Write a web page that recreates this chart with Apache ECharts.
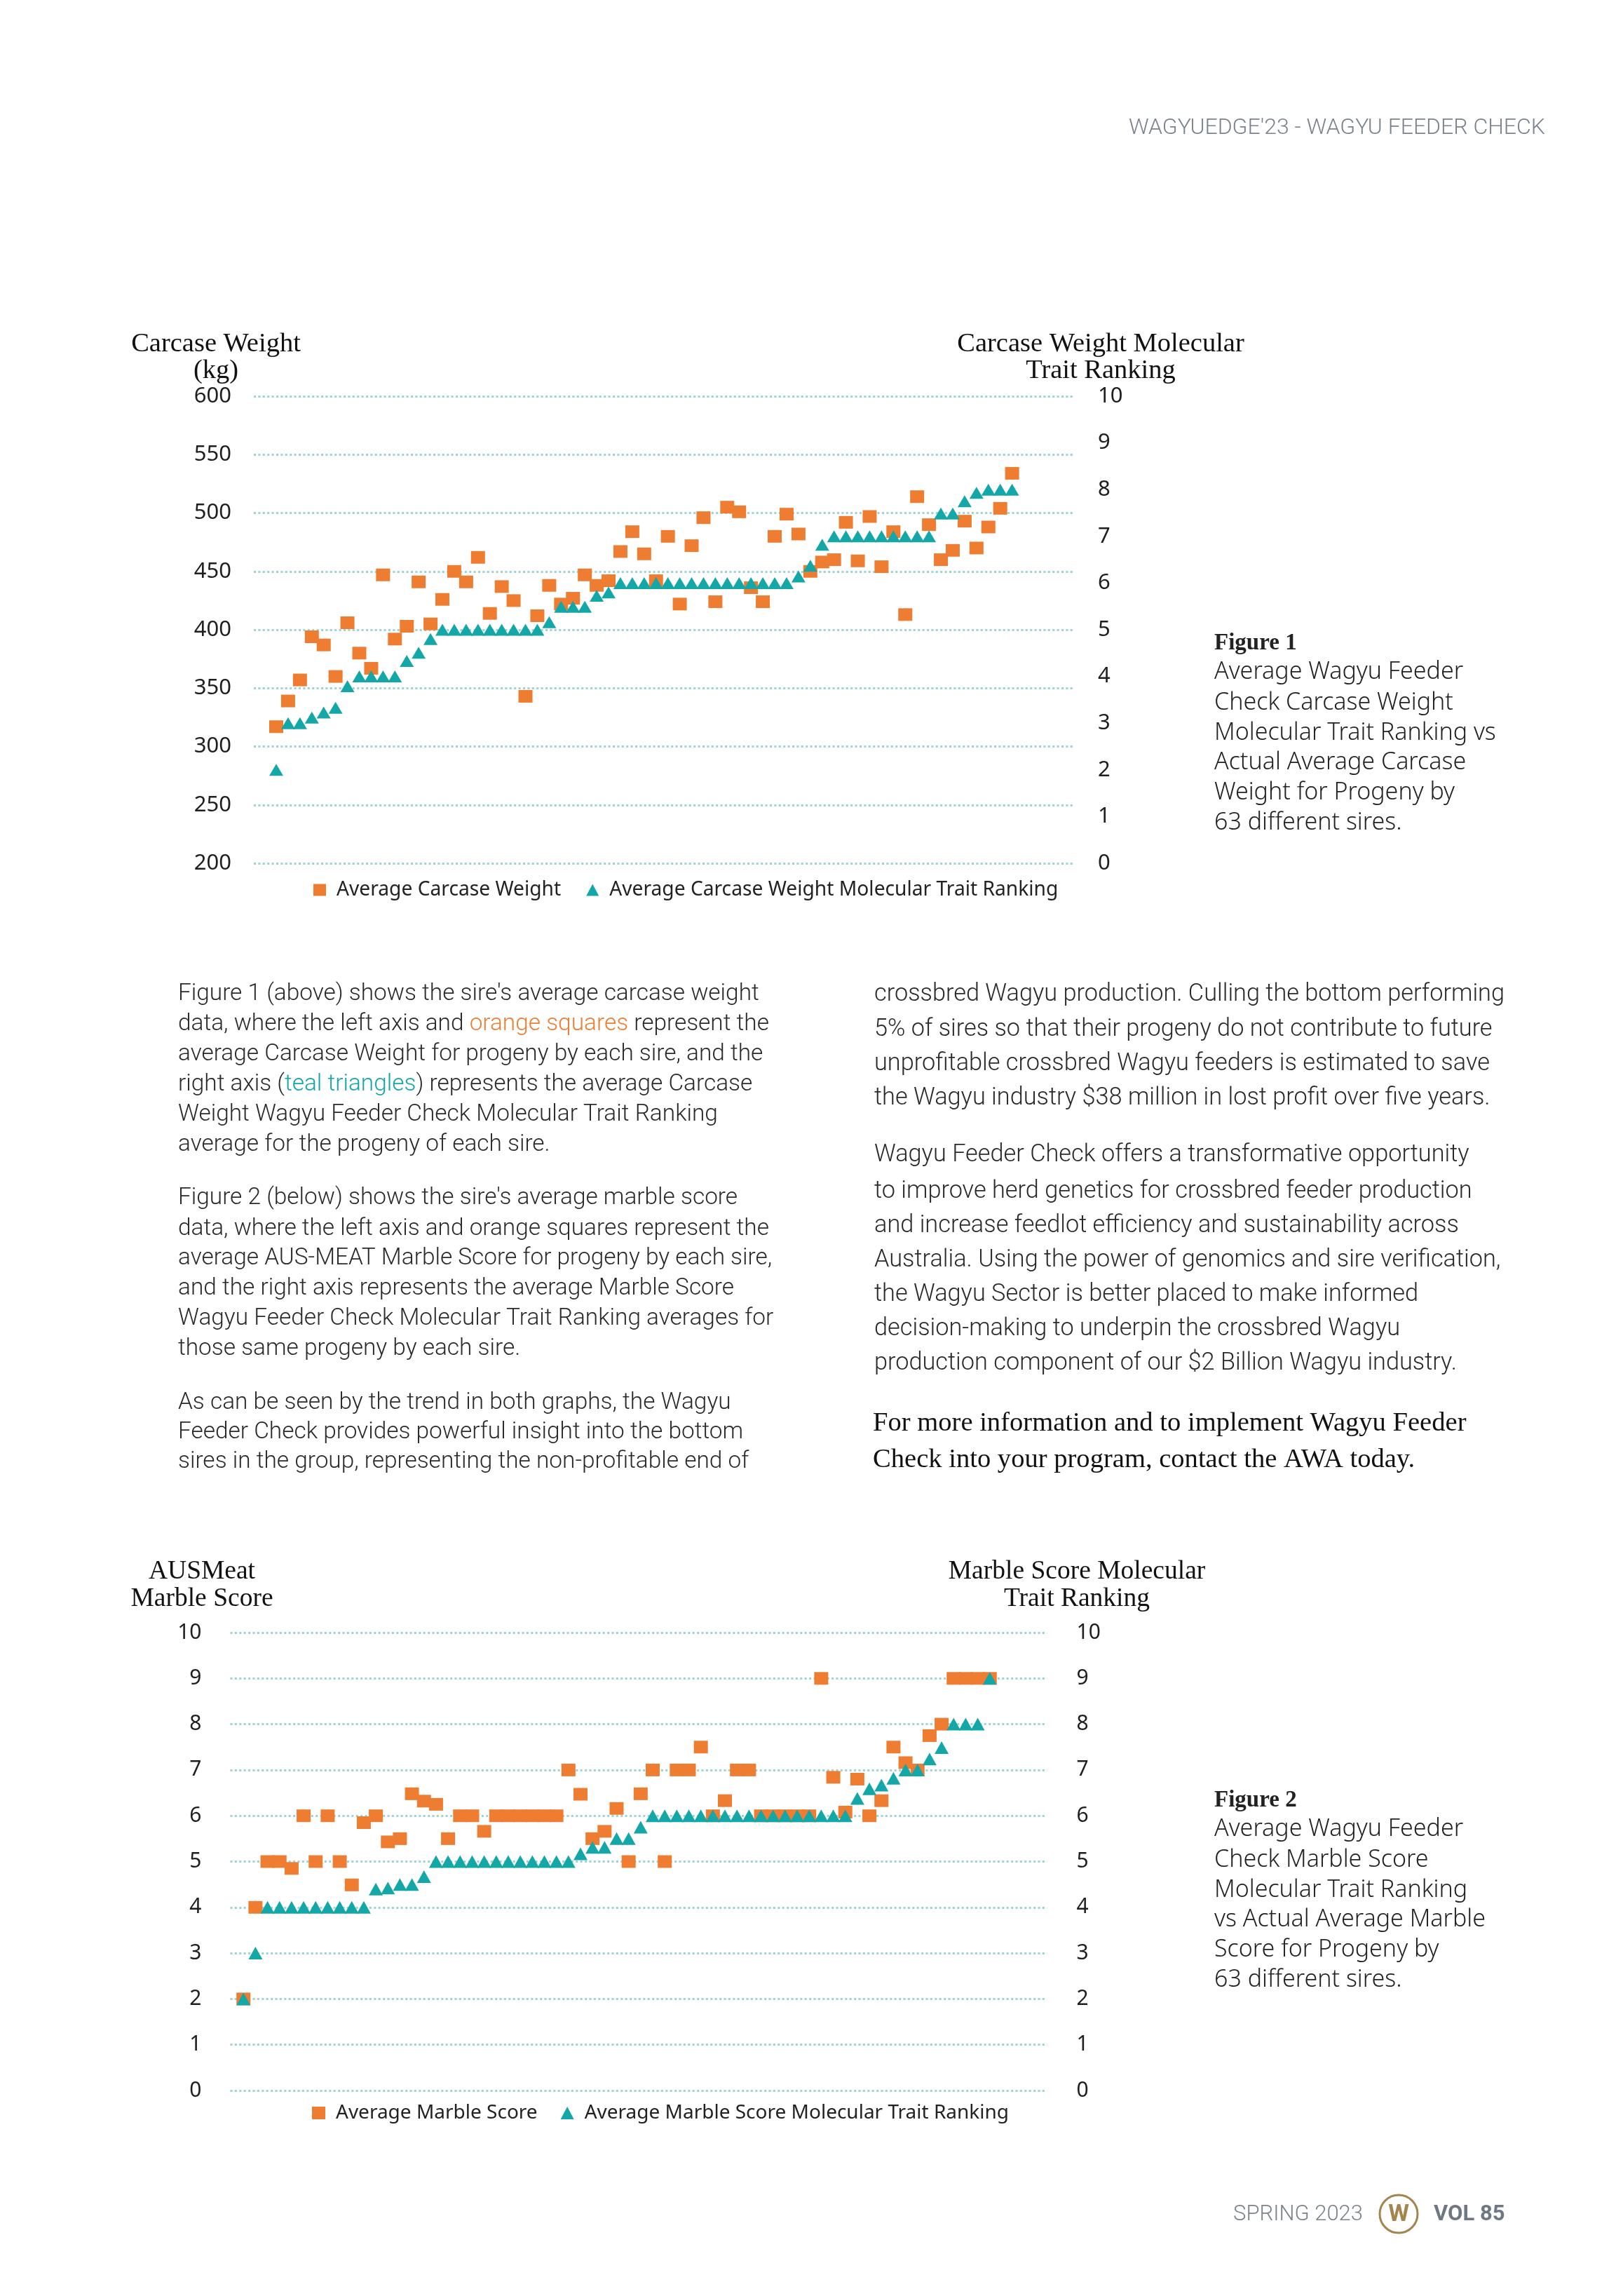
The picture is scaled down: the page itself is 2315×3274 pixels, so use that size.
<!DOCTYPE html>
<html>
<head>
<meta charset="utf-8">
<script src="https://cdn.jsdelivr.net/npm/echarts@6/dist/echarts.min.js"></script>
<style>
html,body{margin:0;padding:0;background:#ffffff;}
#page{width:2315px;height:3274px;}
</style>
</head>
<body>
<div id="page"></div>
<script>
// ---------- DATA ----------
const sireIndex = [1,2,3,4,5,6,7,8,9,10,11,12,13,14,15,16,17,18,19,20,21,22,23,24,25,26,27,28,29,30,31,32,
  33,34,35,36,37,38,39,40,41,42,43,44,45,46,47,48,49,50,51,52,53,54,55,56,57,58,59,60,61,62,63];

// Figure 1 – average carcase weight (kg), left axis
const carcaseWeight = [317,339,357,394,387,360,406,380,367,447,392,403,441,405,426,450,441,462,414,437,425,343,
  412,438,422,427,447,438,442,467,484,465,442,480,422,472,496,424,505,501,436,424,480,499,482,450,458,460,492,459,
  497,454,484,413,514,490,460,468,493,470,488,504,534];

// Figure 1 – carcase weight molecular trait ranking, right axis
const carcaseRanking = [2.0,3.0,3.0,3.12,3.23,3.33,3.79,4.0,4.0,4.0,4.0,4.33,4.51,4.8,5,5,5,5,5,5,5,5,5,5.16,
  5.49,5.49,5.49,5.73,5.8,6,6,6,6,6,6,6,6,6,6,6,6,6,6,6,6.14,6.37,6.82,7,7,7,7,7,7,7,7,7,7.49,7.49,7.75,7.93,8,8,8];

// Figure 2 – average AUS-MEAT marble score, left axis
const marbleScore = [2.0,4.0,5.0,5.0,4.85,6.0,5.0,6.0,5.0,4.49,5.85,6.0,5.43,5.5,6.48,6.32,6.25,5.5,6.0,6.0,5.66,
  6,6,6,6,6,6,7.0,6.47,5.5,5.66,6.16,5.0,6.48,7.0,5.0,7.0,7.0,7.5,6.0,6.33,7.0,7.0,6,6,6,6,6,9.0,6.84,6.08,6.8,6.0,
  6.33,7.5,7.16,7.0,7.75,8.0,9,9,9,9];

// Figure 2 – marble score molecular trait ranking, right axis
const marbleRanking = [2.0,3.0,4,4,4,4,4,4,4,4,4,4.4,4.42,4.5,4.5,4.67,5,5,5,5,5,5,5,5,5,5,5,5,5.17,5.31,5.31,5.5,5.5,
  5.75,6,6,6,6,6,6,6,6,6,6,6,6,6,6,6,6,6,6.38,6.59,6.67,6.82,7.0,7.0,7.24,7.49,8,8,8,9];

const fig1SeriesNames = ['Average Carcase Weight', 'Average Carcase Weight Molecular Trait Ranking'];
const fig2SeriesNames = ['Average Marble Score', 'Average Marble Score Molecular Trait Ranking'];

// ---------- STYLE ----------
const ORANGE = '#ee7d32';
const TEAL = '#14a7a8';
const GRID_DOT = '#9dd3d3';
const SANS = "'Noto Sans', sans-serif";
const BODY = "Roboto, 'Noto Sans', sans-serif";
const SERIF = "'Liberation Serif', 'DejaVu Serif', serif";
const INK = '#1f1f1f';
const GREY = '#7a838d';

function pairs(values) { return values.map((v, i) => [sireIndex[i], v]); }

function txt(x, y, text, font, fill, align, extra) {
  const st = Object.assign({
    text: text, font: font, fill: fill,
    align: align || 'left', verticalAlign: 'middle',
    textAlign: align || 'left', textVerticalAlign: 'middle'
  }, extra || {});
  return { type: 'text', x: x, y: y, silent: true, style: st };
}

const bodyFontL = '300 33.4px ' + BODY;
const bodyFontR = '300 34.3px ' + BODY;
const rich = {
  o: { fill: ORANGE, font: bodyFontL },
  t: { fill: TEAL, font: bodyFontL }
};

const leftCol = [
  [1418, "Figure 1 (above) shows the sire's average carcase weight"],
  [1461, "data, where the left axis and {o|orange squares} represent the"],
  [1504, "average Carcase Weight for progeny by each sire, and the"],
  [1547, "right axis ({t|teal triangles}) represents the average Carcase"],
  [1590, "Weight Wagyu Feeder Check Molecular Trait Ranking"],
  [1633, "average for the progeny of each sire."],
  [1709, "Figure 2 (below) shows the sire's average marble score"],
  [1753, "data, where the left axis and orange squares represent the"],
  [1795, "average AUS-MEAT Marble Score for progeny by each sire,"],
  [1838, "and the right axis represents the average Marble Score"],
  [1881, "Wagyu Feeder Check Molecular Trait Ranking averages for"],
  [1924, "those same progeny by each sire."],
  [2001, "As can be seen by the trend in both graphs, the Wagyu"],
  [2043, "Feeder Check provides powerful insight into the bottom"],
  [2085, "sires in the group, representing the non-profitable end of"]
];
const rightCol = [
  [1418, "crossbred Wagyu production. Culling the bottom performing"],
  [1468, "5% of sires so that their progeny do not contribute to future"],
  [1517, "unprofitable crossbred Wagyu feeders is estimated to save"],
  [1566, "the Wagyu industry $38 million in lost profit over five years."],
  [1647, "Wagyu Feeder Check offers a transformative opportunity"],
  [1699, "to improve herd genetics for crossbred feeder production"],
  [1748, "and increase feedlot efficiency and sustainability across"],
  [1797, "Australia. Using the power of genomics and sire verification,"],
  [1846, "the Wagyu Sector is better placed to make informed"],
  [1895, "decision-making to underpin the crossbred Wagyu"],
  [1944, "production component of our $2 Billion Wagyu industry."]
];
const closing = [
  [2030, "For more information and to implement Wagyu Feeder"],
  [2082, "Check into your program, contact the AWA today."]
];
const cap1 = ["Average Wagyu Feeder", "Check Carcase Weight", "Molecular Trait Ranking vs",
  "Actual Average Carcase", "Weight for Progeny by", "63 different sires."];
const cap2 = ["Average Wagyu Feeder", "Check Marble Score", "Molecular Trait Ranking",
  "vs Actual Average Marble", "Score for Progeny by", "63 different sires."];
const cap1Y = [958, 1002, 1045, 1087, 1130, 1173];
const cap2Y = [2608, 2652, 2695, 2737, 2780, 2823];

const graphics = [];
// header
graphics.push(txt(2204, 183, "WAGYUEDGE'23 - WAGYU FEEDER CHECK", '300 32px ' + BODY, GREY, 'right'));
// axis titles figure 1
graphics.push(txt(308, 491, 'Carcase Weight', '38.5px ' + SERIF, '#111', 'center'));
graphics.push(txt(308, 529, '(kg)', '38.5px ' + SERIF, '#111', 'center'));
graphics.push(txt(1570, 491, 'Carcase Weight Molecular', '38.5px ' + SERIF, '#111', 'center'));
graphics.push(txt(1570, 529, 'Trait Ranking', '38.5px ' + SERIF, '#111', 'center'));
// axis titles figure 2
graphics.push(txt(288, 2241, 'AUSMeat', '37.5px ' + SERIF, '#111', 'center'));
graphics.push(txt(288, 2280, 'Marble Score', '37.5px ' + SERIF, '#111', 'center'));
graphics.push(txt(1536, 2241, 'Marble Score Molecular', '37.5px ' + SERIF, '#111', 'center'));
graphics.push(txt(1536, 2280, 'Trait Ranking', '37.5px ' + SERIF, '#111', 'center'));
// captions
graphics.push(txt(1732, 917, 'Figure 1', 'bold 33px ' + SERIF, '#222', 'left'));
cap1.forEach((s, i) => graphics.push(txt(1732, cap1Y[i], s, '300 34px ' + SANS, '#222', 'left')));
graphics.push(txt(1732, 2567, 'Figure 2', 'bold 33px ' + SERIF, '#222', 'left'));
cap2.forEach((s, i) => graphics.push(txt(1732, cap2Y[i], s, '300 34px ' + SANS, '#222', 'left')));
// body text
leftCol.forEach(([y, s]) => graphics.push(txt(254, y, s, bodyFontL, '#2a2a2a', 'left', { rich: rich })));
rightCol.forEach(([y, s]) => graphics.push(txt(1247, y, s, bodyFontR, '#2a2a2a', 'left')));
closing.forEach(([y, s]) => graphics.push(txt(1245, y, s, '38.6px ' + SERIF, '#111', 'left')));
// footer
graphics.push(txt(1944, 3158, 'SPRING 2023', '300 31px ' + BODY, GREY, 'right'));
graphics.push({ type: 'circle', silent: true, shape: { cx: 1995, cy: 3157, r: 27 },
  style: { fill: 'none', stroke: '#a3864f', lineWidth: 3 } });
graphics.push(txt(1995, 3158, 'W', 'bold 34px ' + BODY, '#a3864f', 'center'));
graphics.push(txt(2045, 3158, 'VOL 85', 'bold 31px ' + BODY, '#6e7884', 'left'));

const dotted = { color: GRID_DOT, width: 3, type: [3, 3.4] };
const labelBase = { fontFamily: SANS, color: INK };

const option = {
  animation: false,
  backgroundColor: '#ffffff',
  grid: [
    { left: 362, top: 565, width: 1171, height: 666 },
    { left: 328.5, top: 2328, width: 1165, height: 653 }
  ],
  xAxis: [
    { type: 'value', gridIndex: 0, min: -0.89, max: 68.28, show: false, splitLine: { show: false } },
    { type: 'value', gridIndex: 1, min: -0.09, max: 67.76, show: false, splitLine: { show: false } }
  ],
  yAxis: [
    { type: 'value', gridIndex: 0, position: 'left', min: 200, max: 600, interval: 50,
      axisLine: { show: false }, axisTick: { show: false },
      axisLabel: Object.assign({ fontSize: 31, margin: 32 }, labelBase),
      splitLine: { show: true, lineStyle: dotted } },
    { type: 'value', gridIndex: 0, position: 'right', min: 0, max: 10, interval: 1,
      axisLine: { show: false }, axisTick: { show: false },
      axisLabel: Object.assign({ fontSize: 31, margin: 33 }, labelBase),
      splitLine: { show: false } },
    { type: 'value', gridIndex: 1, position: 'left', min: 0, max: 10, interval: 1,
      axisLine: { show: false }, axisTick: { show: false },
      axisLabel: Object.assign({ fontSize: 30, margin: 41 }, labelBase),
      splitLine: { show: true, lineStyle: dotted } },
    { type: 'value', gridIndex: 1, position: 'right', min: 0, max: 10, interval: 1,
      axisLine: { show: false }, axisTick: { show: false },
      axisLabel: Object.assign({ fontSize: 30, margin: 42 }, labelBase),
      splitLine: { show: false } }
  ],
  legend: [
    { left: 442, top: 1247, itemWidth: 18, itemHeight: 17, itemGap: 36, selectedMode: false,
      data: [{ name: fig1SeriesNames[0], icon: 'rect' }, { name: fig1SeriesNames[1], icon: 'triangle' }],
      textStyle: { fontFamily: SANS, fontSize: 28.2, color: '#222', lineHeight: 34, padding: [0, 0, 0, 10] } },
    { left: 440, top: 2991, itemWidth: 19, itemHeight: 18, itemGap: 33, selectedMode: false,
      data: [{ name: fig2SeriesNames[0], icon: 'rect' }, { name: fig2SeriesNames[1], icon: 'triangle' }],
      textStyle: { fontFamily: SANS, fontSize: 28, color: '#222', lineHeight: 34, padding: [0, 0, 0, 10] } }
  ],
  series: [
    { type: 'scatter', name: fig1SeriesNames[0], xAxisIndex: 0, yAxisIndex: 0, symbol: 'rect',
      symbolSize: [20, 18], itemStyle: { color: ORANGE, opacity: 1 }, data: pairs(carcaseWeight), z: 2 },
    { type: 'scatter', name: fig1SeriesNames[1], xAxisIndex: 0, yAxisIndex: 1, symbol: 'triangle',
      symbolSize: [20, 17], itemStyle: { color: TEAL, opacity: 1 }, data: pairs(carcaseRanking), z: 3 },
    { type: 'scatter', name: fig2SeriesNames[0], xAxisIndex: 1, yAxisIndex: 2, symbol: 'rect',
      symbolSize: [20, 18], itemStyle: { color: ORANGE, opacity: 1 }, data: pairs(marbleScore), z: 2 },
    { type: 'scatter', name: fig2SeriesNames[1], xAxisIndex: 1, yAxisIndex: 3, symbol: 'triangle',
      symbolSize: [20, 18], itemStyle: { color: TEAL, opacity: 1 }, data: pairs(marbleRanking), z: 3 }
  ],
  graphic: graphics
};

const chart = echarts.init(document.getElementById('page'), null, { renderer: 'canvas', width: 2315, height: 3274 });
chart.setOption(option);
</script>
</body>
</html>
